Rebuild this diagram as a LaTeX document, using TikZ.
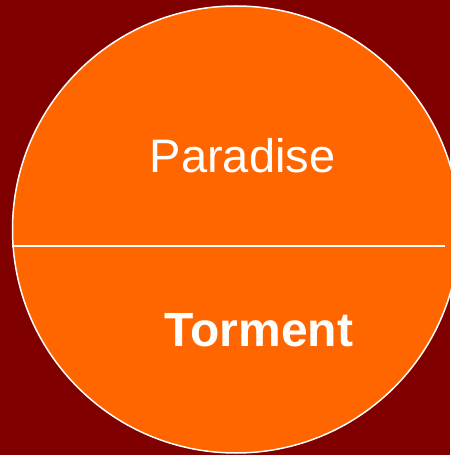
\documentclass[tikz,border=0pt]{standalone}
\usepackage{fontspec}
\setmainfont{Liberation Sans}
\usetikzlibrary{positioning}
\definecolor{bgred}{HTML}{800000}
\definecolor{disc}{HTML}{FF6600}

\begin{document}
\begin{tikzpicture}[x=1pt, y=1pt,
  label/.style={text=white, font=\fontsize{47}{50}\selectfont, anchor=base, inner sep=0pt}]
\def\rad{223.5}
\fill[bgred] (0,0) rectangle (450,455);
\useasboundingbox (0,0) rectangle (450,455);
\coordinate (C) at (236,225.5);
\draw[white, line width=1.5pt, fill=disc] (C) circle (\rad);
\coordinate (W) at (12,209.3);
\coordinate (E) at (445,209.3);
\draw[white, line width=1.8pt] (W) -- (E);
\node[label] (paradise) at (242.5,282) {Paradise};
\node[label, font=\fontsize{48}{50}\selectfont\bfseries] (torment) at (259,108) {Torment};
\end{tikzpicture}
\end{document}
